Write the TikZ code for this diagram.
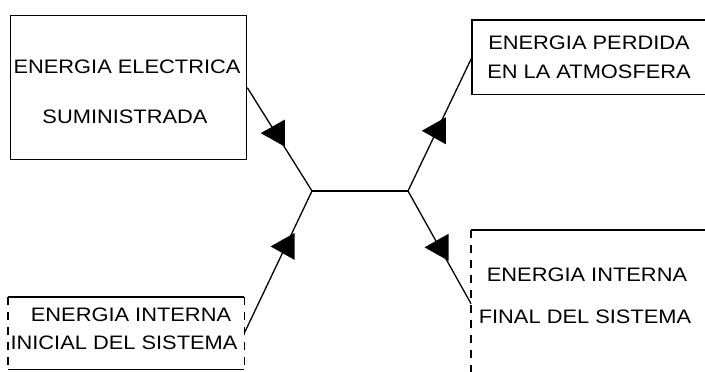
\documentclass[tikz,border=0pt]{standalone}
\usepackage{fontspec}
\usetikzlibrary{calc}
\newfontfamily\lab[FakeStretch=1.12]{Liberation Sans}
\begin{document}
\begin{tikzpicture}[x=1pt,y=-1pt,line width=1.3pt,
  box/.style={rectangle,inner sep=0pt,anchor=north west},
  lbl/.style={font=\lab\fontsize{19.5}{21}\selectfont,inner sep=0pt,anchor=center},
  brk/.style={dash pattern=on 8pt off 7pt},
  tri/.style={fill=black,draw=none}]
\useasboundingbox (0,0) rectangle (705,372);
% boxes
\node[box,draw,minimum width=236pt,minimum height=144pt] (b1) at (10,15) {};
\node[box,minimum width=233pt,minimum height=73pt] (b2) at (472,20) {};
\node[box,minimum width=235pt,minimum height=71pt] (b3) at (8,297) {};
\node[box,minimum width=234pt,minimum height=146pt] (b4) at (471,230) {};
\draw (b2.north east) -- (b2.north west) -- (b2.south west) -- (b2.south east);
\draw (b3.north west) -- (b3.north east);
\draw (b3.south west) -- (b3.south east);
\draw[brk] (b3.north west) -- (b3.south west);
\draw[brk] (b3.north east) -- (b3.south east);
\draw (b4.north east) -- (b4.north west);
\draw[brk] (b4.north west) -- (b4.south west);
% texts
\node[lbl] (t1a) at (127,67) {ENERGIA ELECTRICA};
\node[lbl] (t1b) at (125,117) {SUMINISTRADA};
\node[lbl] (t2a) at (589,43) {ENERGIA PERDIDA};
\node[lbl] (t2b) at (589,72) {EN LA ATMOSFERA};
\node[lbl] (t3a) at (131,315) {ENERGIA INTERNA};
\node[lbl] (t3b) at (124,343) {INICIAL DEL SISTEMA};
\node[lbl] (t4a) at (587,275) {ENERGIA INTERNA};
\node[lbl] (t4b) at (585,317) {FINAL DEL SISTEMA};
% junction
\coordinate (j1) at (312,191);
\coordinate (j2) at (408,191);
\draw (j1) -- (j2);
\draw (b1.east) -- coordinate[pos=0.44] (a1) (j1);
\draw (b3.east) -- coordinate[pos=0.61] (a2) (j1);
\draw (j2) -- coordinate[pos=0.45] (a3) (b2.west);
\draw (j2) -- coordinate[pos=0.5] (a4) (b4.west);
% arrowheads
\foreach \a in {a1,a2,a3,a4}{
  \fill[tri] ($(\a)+(-15,0)$) -- ($(\a)+(9,-13.5)$) -- ($(\a)+(9,13.5)$) -- cycle;
}
\end{tikzpicture}
\end{document}
